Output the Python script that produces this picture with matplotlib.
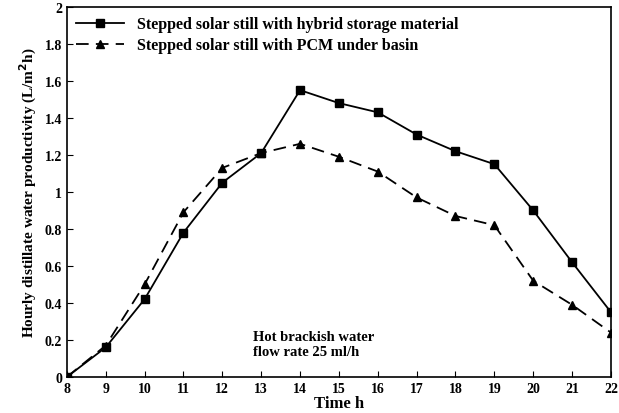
import numpy as np
import matplotlib.pyplot as plt

plt.rcParams['font.family'] = ['Liberation Serif', 'DejaVu Serif']
plt.rcParams['font.weight'] = 'bold'

hours = [8, 9, 10, 11, 12, 13, 14, 15, 16, 17, 18, 19, 20, 21, 22]
hybrid = [0, 0.16, 0.42, 0.78, 1.05, 1.21, 1.55, 1.48, 1.43, 1.31, 1.22, 1.15, 0.90, 0.62, 0.35]
pcm = [0, 0.17, 0.50, 0.89, 1.13, 1.21, 1.26, 1.19, 1.11, 0.97, 0.87, 0.82, 0.52, 0.39, 0.24]

fig = plt.figure(figsize=(6.19, 4.14), dpi=100)
ax = fig.add_axes([0.108, 0.087, 0.879, 0.894])

ax.plot(hours, hybrid, '-', color='black', marker='s', markersize=6, lw=1.3,
        label='Stepped solar still with hybrid storage material')
ax.plot(hours, pcm, '--', color='black', marker='^', markersize=6, lw=1.3,
        dashes=(7, 4), label='Stepped solar still with PCM under basin')

ax.set_xlim(8, 22)
ax.set_ylim(0, 2)
ax.set_xticks(range(8, 23))
ax.set_yticks(np.arange(0, 2.01, 0.2))
ax.set_yticklabels(['0', '0.2', '0.4', '0.6', '0.8', '1', '1.2', '1.4', '1.6', '1.8', '2'])
ax.tick_params(direction='in', labelsize=10, length=4)
for s in ax.spines.values():
    s.set_linewidth(1.2)

ax.set_xlabel('Time h', fontsize=12, fontweight='bold', labelpad=0)
ax.set_ylabel('Hourly distillate water productivity (L/m$^2$h)', fontsize=11, fontweight='bold')
ax.legend(loc='upper left', frameon=False, fontsize=11.5, handlelength=3,
          borderaxespad=0.2, labelspacing=0.3)
ax.text(12.8, 0.12, 'Hot brackish water\nflow rate 25 ml/h', fontsize=10.5, fontweight='bold')

fig.savefig('out.png', dpi=100)
